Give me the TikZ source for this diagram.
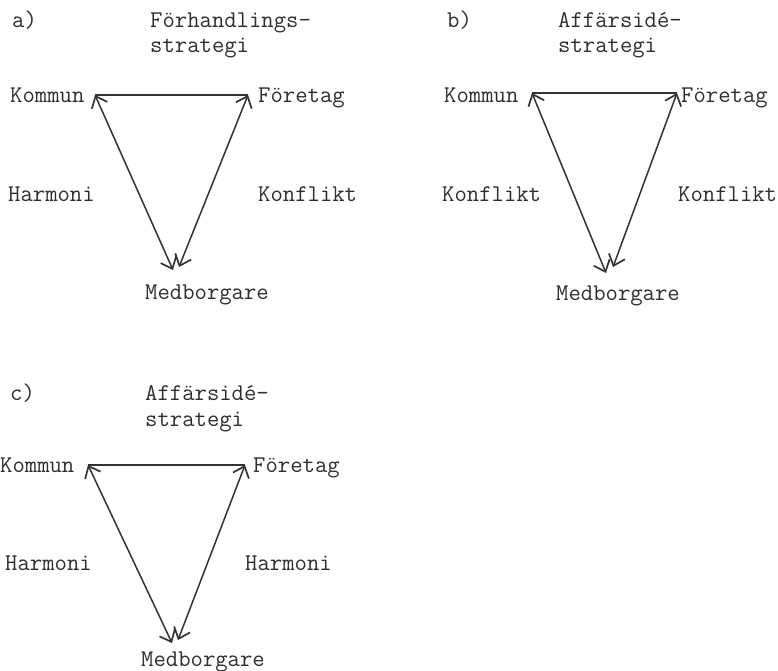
\documentclass[tikz,border=0pt]{standalone}
\usepackage{fontspec}
\usetikzlibrary{arrows.meta}
\tikzset{
  lbl/.style={font=\ttfamily\fontsize{24}{27}\selectfont\addfontfeatures{FakeBold=1.6},
    text=black!82, inner sep=0pt, text height=1.6ex, text depth=0.4ex, anchor=west,
    yshift=-3pt},
  rel/.style={<->, >={Straight Barb[length=10pt,width=17pt,line width=1.7pt]},
    line width=1.5pt, draw=black!80},
  side/.style={line width=1.5pt, draw=black!80},
}
\begin{document}
\begin{tikzpicture}[x=1pt,y=-1pt]
  \useasboundingbox (0,0) rectangle (778,671);

  % a) Forhandlingsstrategi
  \node[lbl](atag)at(12, 22){a)};
  \node[lbl](atit)at(150, 22){Förhandlings-};
  \node[lbl](atit2)at(150, 47){strategi};
  \node[lbl](akom)at(10, 97){Kommun};
  \node[lbl](afor)at(258, 97){Företag};
  \node[lbl](aleft)at(8, 196){Harmoni};
  \node[lbl](aright)at(258, 196){Konflikt};
  \node[lbl](amed)at(145, 294){Medborgare};
  \coordinate (ak) at (95, 95);
  \coordinate (af) at (248, 95);
  \coordinate (am1) at (173, 270);
  \coordinate (am2) at (179, 267);
  \draw[side](ak) -- (af);
  \draw[rel](ak) -- (am1);
  \draw[rel](af) -- (am2);

  % b) Affarsidestrategi
  \node[lbl](btag)at(447, 22){b)};
  \node[lbl](btit)at(558, 22){Affärsidé-};
  \node[lbl](btit2)at(558, 47){strategi};
  \node[lbl](bkom)at(444, 97){Kommun};
  \node[lbl](bfor)at(681, 97){Företag};
  \node[lbl](bleft)at(442, 196){Konflikt};
  \node[lbl](bright)at(678, 196){Konflikt};
  \node[lbl](bmed)at(556, 295){Medborgare};
  \coordinate (bk) at (532, 93);
  \coordinate (bf) at (677, 93);
  \coordinate (bm1) at (606, 273);
  \coordinate (bm2) at (613, 267);
  \draw[side](bk) -- (bf);
  \draw[rel](bk) -- (bm1);
  \draw[rel](bf) -- (bm2);

  % c) Affarsidestrategi
  \node[lbl](ctag)at(10, 395){c)};
  \node[lbl](ctit)at(145, 395){Affärsidé-};
  \node[lbl](ctit2)at(145, 421){strategi};
  \node[lbl](ckom)at(0, 467){Kommun};
  \node[lbl](cfor)at(253, 467){Företag};
  \node[lbl](cleft)at(5, 565){Harmoni};
  \node[lbl](cright)at(245, 565){Harmoni};
  \node[lbl](cmed)at(141, 661){Medborgare};
  \coordinate (ck) at (88, 465);
  \coordinate (cf) at (245, 465);
  \coordinate (cm1) at (172, 643);
  \coordinate (cm2) at (178, 640);
  \draw[side](ck) -- (cf);
  \draw[rel](ck) -- (cm1);
  \draw[rel](cf) -- (cm2);
\end{tikzpicture}
\end{document}
